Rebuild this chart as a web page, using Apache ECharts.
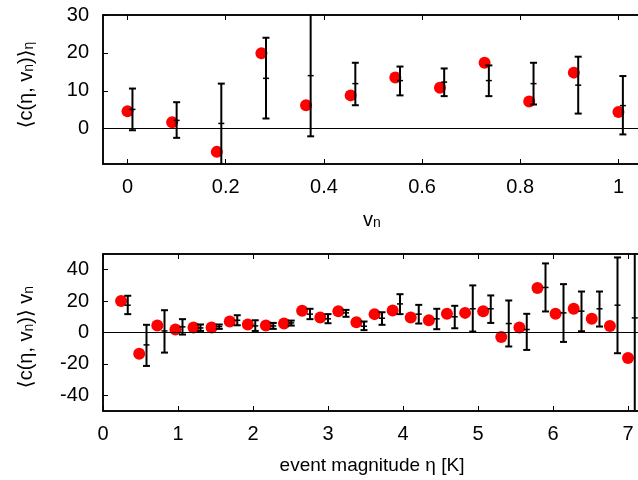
<!DOCTYPE html>
<html>
<head>
<meta charset="utf-8">
<script src="https://cdn.jsdelivr.net/npm/echarts@6/dist/echarts.min.js"></script>
<style>
  html, body { margin: 0; padding: 0; background: #fff; }
  #main { width: 638px; height: 480px; }
</style>
</head>
<body>
<div id="main"></div>
<script>
// top panel: mean over eta vs v_n
const topX = [0, 0.0909, 0.1818, 0.2727, 0.3636, 0.4545, 0.5455, 0.6364, 0.7273, 0.8182, 0.9091, 1.0];
const topY = [4.6, 1.7, -6.1, 19.9, 6.2, 8.8, 13.5, 10.8, 17.4, 7.2, 14.8, 4.4];
const topErrX = [0.010, 0.100, 0.191, 0.282, 0.373, 0.464, 0.555, 0.645, 0.736, 0.827, 0.918, 1.009];
const topMid = [5.1, 2.2, 1.4, 13.3, 14.0, 11.9, 12.7, 12.3, 12.7, 11.9, 11.5, 6.1];
const topLo = [-0.4, -2.4, -12, 2.7, -2.0, 6.2, 8.8, 8.6, 8.6, 6.4, 4.0, -1.5];
const topHi = [10.6, 7.0, 11.9, 24.0, 32, 17.4, 16.4, 15.9, 16.7, 17.4, 19.0, 13.9];
const topXTicks = [0, 0.2, 0.4, 0.6, 0.8, 1];
const topYTicks = [0, 10, 20, 30];

// bottom panel: mean over v_n vs event magnitude
const botX = [0.241, 0.483, 0.724, 0.966, 1.207, 1.448, 1.690, 1.931, 2.172, 2.414, 2.655, 2.897, 3.138, 3.379, 3.621,
  3.862, 4.103, 4.345, 4.586, 4.828, 5.069, 5.310, 5.552, 5.793, 6.034, 6.276, 6.517, 6.759, 7.0];
const botY = [20.0, -13.6, 4.4, 1.9, 3.2, 3.2, 7.0, 5.1, 4.4, 5.7, 13.8, 9.6, 13.6, 6.6, 11.7,
  14.0, 9.6, 7.8, 11.9, 12.5, 13.6, -2.8, 3.2, 28.4, 11.9, 15.1, 8.7, 4.2, -16.2];
const botErrX = [0.33, 0.58, 0.82, 1.06, 1.30, 1.55, 1.79, 2.03, 2.27, 2.51, 2.76, 3.00, 3.24, 3.48, 3.72,
  3.96, 4.21, 4.45, 4.69, 4.93, 5.17, 5.41, 5.65, 5.90, 6.14, 6.38, 6.62, 6.86, 7.09];
const botMid = [17.4, -7.9, 1.0, 3.6, 2.9, 3.8, 7.8, 4.2, 4.2, 6.1, 11.7, 8.7, 12.5, 4.0, 9.1,
  18.2, 11.7, 8.7, 10.0, 15.1, 15.1, 5.7, 1.9, 28.7, 12.5, 13.6, 15.1, 17.4, 9.3];
const botLo = [11.7, -21.3, -12.8, -1.3, 1.0, 2.3, 4.6, 1.0, 2.3, 4.4, 8.5, 5.9, 10.0, 1.5, 4.9,
  11.7, 5.7, 2.1, 2.7, 0.6, 6.1, -8.9, -11.1, 13.4, -6.0, 0.8, 3.8, -13.2, -60];
const botHi = [23.4, 4.9, 14.2, 8.5, 5.1, 5.1, 11.0, 7.8, 6.1, 7.6, 15.1, 11.7, 14.4, 7.0, 12.9,
  24.4, 17.6, 15.1, 17.0, 30.0, 23.6, 20.4, 11.9, 44.0, 30.8, 26.1, 26.1, 47.8, 60];
const botXTicks = [0, 1, 2, 3, 4, 5, 6, 7];
const botYTicks = [-40, -20, 0, 20, 40];

const FONT = 'Liberation Sans, Arial, DejaVu Sans, sans-serif';

const chart = echarts.init(document.getElementById('main'), null, { renderer: 'canvas' });

function errBars(errX, lo, mid, hi) {
  return errX.map((x, i) => [x, lo[i], mid[i], hi[i]]);
}

// error bar: vertical line, caps at both ends, small tick at the middle
function renderErr(params, api) {
  const x = api.value(0);
  const pLo = api.coord([x, api.value(1)]);
  const pMid = api.coord([x, api.value(2)]);
  const pHi = api.coord([x, api.value(3)]);
  const cap = 3.5;
  const st = { stroke: '#000', lineWidth: 2 };
  return {
    type: 'group',
    children: [
      { type: 'line', shape: { x1: pLo[0], y1: pLo[1], x2: pHi[0], y2: pHi[1] }, style: st },
      { type: 'line', shape: { x1: pLo[0] - cap, y1: pLo[1], x2: pLo[0] + cap, y2: pLo[1] }, style: st },
      { type: 'line', shape: { x1: pHi[0] - cap, y1: pHi[1], x2: pHi[0] + cap, y2: pHi[1] }, style: st },
      { type: 'line', shape: { x1: pMid[0] - 3, y1: pMid[1], x2: pMid[0] + 3, y2: pMid[1] }, style: { stroke: '#000', lineWidth: 1.5 } }
    ]
  };
}

function xAxes(grid, min, max, ticks) {
  const line = { show: true, onZero: false, lineStyle: { color: '#000', width: 1.5 } };
  const tick = { show: true, inside: true, length: 5, customValues: ticks, lineStyle: { color: '#000', width: 1 } };
  return [
    {
      gridIndex: grid, type: 'value', position: 'bottom', min: min, max: max,
      axisLine: line, axisTick: tick, splitLine: { show: false },
      axisLabel: { customValues: ticks, margin: 13, fontSize: 20, color: '#000', fontFamily: FONT }
    },
    {
      gridIndex: grid, type: 'value', position: 'top', min: min, max: max,
      axisLine: line, axisTick: tick, splitLine: { show: false }, axisLabel: { show: false }
    }
  ];
}

function yAxes(grid, min, max, ticks) {
  const line = { show: true, onZero: false, lineStyle: { color: '#000', width: 1.5 } };
  const tick = { show: true, inside: true, length: 5, customValues: ticks, lineStyle: { color: '#000', width: 1 } };
  return [
    {
      gridIndex: grid, type: 'value', position: 'left', min: min, max: max,
      axisLine: line, axisTick: tick, splitLine: { show: false },
      axisLabel: { customValues: ticks, margin: 14, fontSize: 20, color: '#000', fontFamily: FONT }
    },
    {
      gridIndex: grid, type: 'value', position: 'right', min: min, max: max,
      axisLine: line, axisTick: tick, splitLine: { show: false }, axisLabel: { show: false }
    }
  ];
}

const zeroLine = {
  silent: true, symbol: 'none', label: { show: false },
  lineStyle: { color: '#000', width: 1, type: 'solid' },
  data: [{ yAxis: 0 }]
};

const rich = {
  n: { fontSize: 20, fontFamily: FONT, fill: '#000', lineHeight: 20, verticalAlign: 'top' },
  s: { fontSize: 14, fontFamily: FONT, fill: '#000', lineHeight: 14, padding: [10, 0, 0, 0], verticalAlign: 'bottom' }
};

const gridBase = {
  show: true, borderColor: '#000', borderWidth: 1.5, backgroundColor: 'transparent',
  outerBoundsMode: 'none', containLabel: false
};

const option = {
  animation: false,
  backgroundColor: '#fff',
  grid: [
    Object.assign({ left: 103, top: 15, right: -5, height: 149 }, gridBase),
    Object.assign({ left: 103, top: 254, right: -5, height: 157 }, gridBase)
  ],
  xAxis: [...xAxes(0, -0.05, 1.05, topXTicks), ...xAxes(1, 0, 7.2, botXTicks)],
  yAxis: [...yAxes(0, -9.3, 30, topYTicks), ...yAxes(1, -50, 50, botYTicks)],
  series: [
    {
      type: 'scatter', xAxisIndex: 0, yAxisIndex: 0, symbol: 'circle', symbolSize: 12,
      itemStyle: { color: '#ff0000', opacity: 1 }, z: 3,
      data: topX.map((x, i) => [x, topY[i]]),
      markLine: zeroLine
    },
    {
      type: 'custom', xAxisIndex: 0, yAxisIndex: 0, clip: true, z: 4,
      renderItem: renderErr, encode: { x: 0, y: [1, 2, 3] },
      data: errBars(topErrX, topLo, topMid, topHi)
    },
    {
      type: 'scatter', xAxisIndex: 2, yAxisIndex: 2, symbol: 'circle', symbolSize: 12,
      itemStyle: { color: '#ff0000', opacity: 1 }, z: 3,
      data: botX.map((x, i) => [x, botY[i]]),
      markLine: zeroLine
    },
    {
      type: 'custom', xAxisIndex: 2, yAxisIndex: 2, clip: true, z: 4,
      renderItem: renderErr, encode: { x: 0, y: [1, 2, 3] },
      data: errBars(botErrX, botLo, botMid, botHi)
    }
  ],
  graphic: [
    {
      type: 'text', x: 26, y: 85, rotation: Math.PI / 2,
      style: { text: '{n|⟨c(η, v}{s|n}{n|)⟩}{s|η}', align: 'center', verticalAlign: 'middle', rich: rich }
    },
    {
      type: 'text', x: 26, y: 337, rotation: Math.PI / 2,
      style: { text: '{n|⟨c(η, v}{s|n}{n|)⟩ v}{s|n}', align: 'center', verticalAlign: 'middle', rich: rich }
    },
    {
      type: 'text', x: 372, y: 220,
      style: { text: '{n|v}{s|n}', align: 'center', verticalAlign: 'middle', rich: rich }
    },
    {
      type: 'text', x: 372, y: 466,
      style: { text: 'event magnitude η [K]', align: 'center', verticalAlign: 'middle', font: '19px ' + FONT, fill: '#000' }
    }
  ]
};

chart.setOption(option);
</script>
</body>
</html>
